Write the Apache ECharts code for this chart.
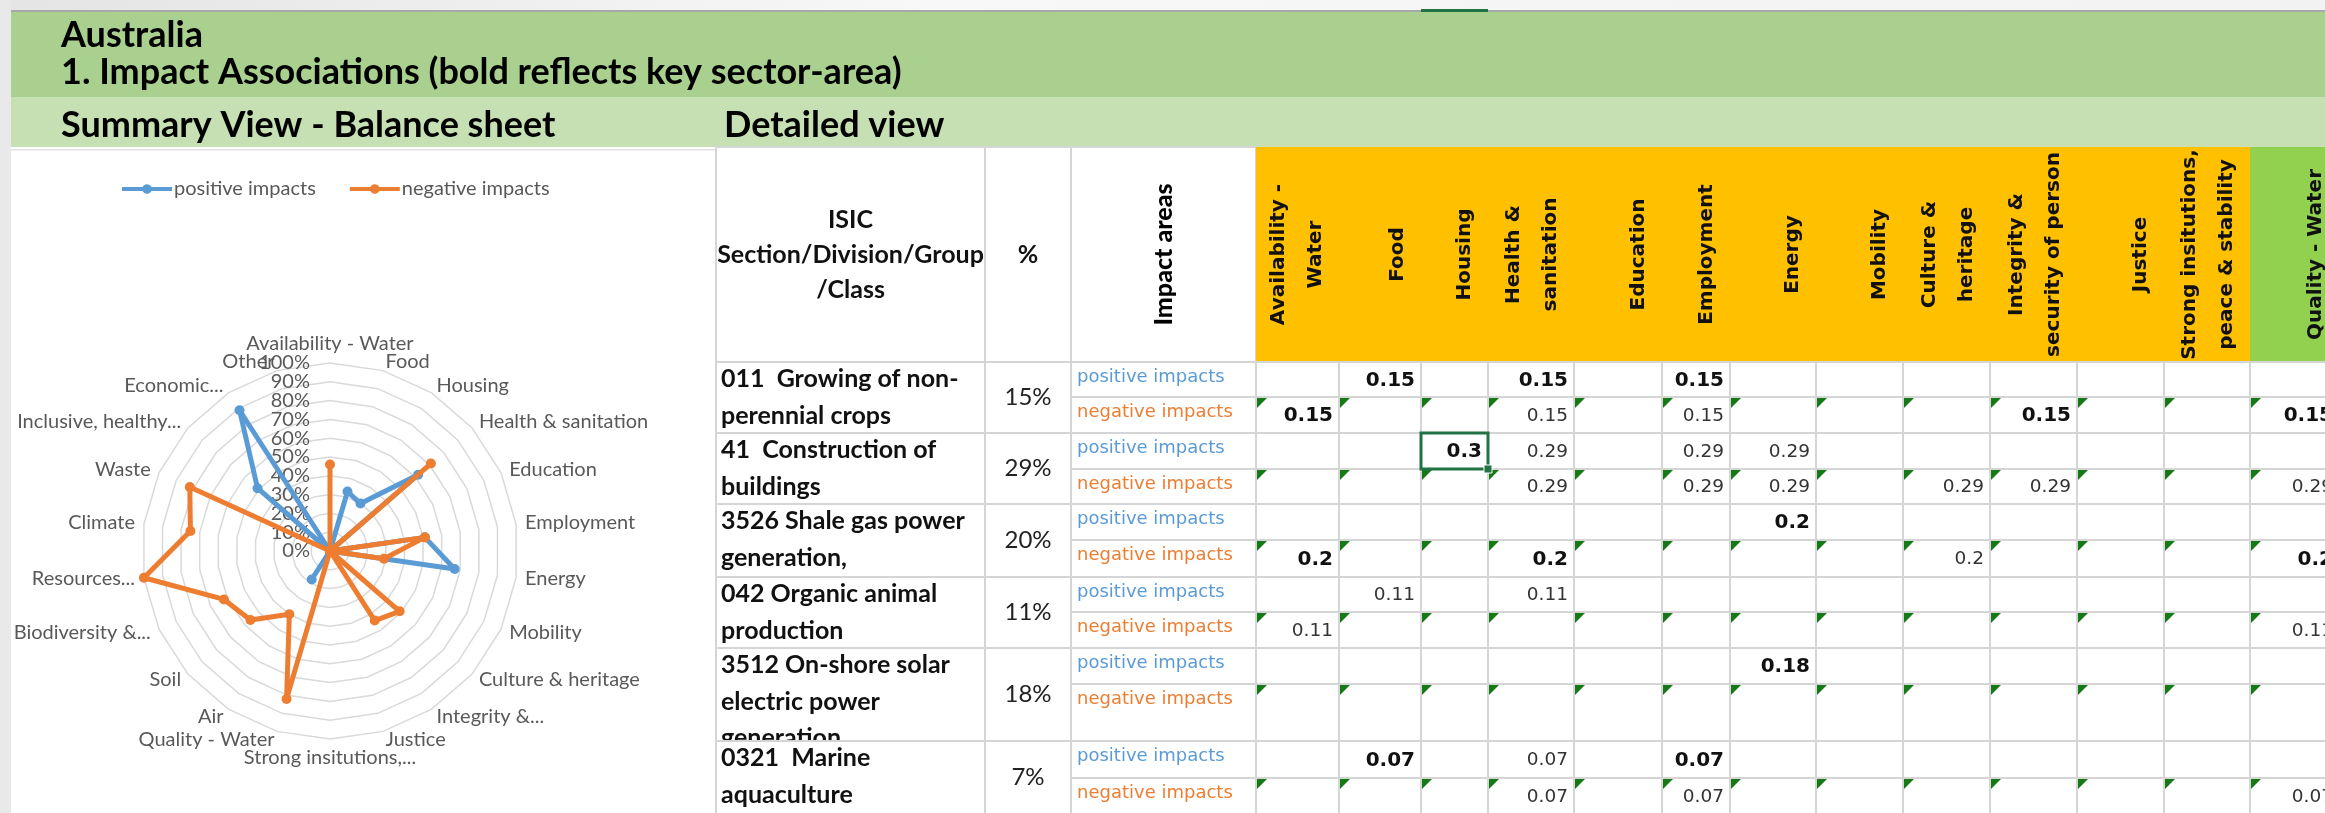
<!DOCTYPE html>
<html><head><meta charset="utf-8">
<script src="https://cdn.jsdelivr.net/npm/echarts@6/dist/echarts.min.js"></script>
<style>html,body{margin:0;padding:0;background:#fff;}#c{width:2325px;height:813px;}</style>
</head><body><div id="c"></div>
<script>
// ---------------- DATA ----------------
const radarCategories = ['Availability - Water','Food','Housing','Health & sanitation','Education','Employment','Energy','Mobility','Culture & heritage','Integrity &...','Justice','Strong insitutions,...','Quality - Water','Air','Soil','Biodiversity &...','Resources...','Climate','Waste','Inclusive, healthy...','Economic...','Other'];
const radarPositive = [0, 0.33, 0.30, 0.62, 0, 0.51, 0.67, 0, 0, 0, 0, 0, 0, 0.18, 0, 0, 0, 0, 0, 0.51, 0.89, 0];
const radarNegative = [0.46, 0, 0, 0.71, 0, 0.51, 0.29, 0, 0.49, 0.44, 0, 0, 0.82, 0.40, 0.56, 0.62, 1.00, 0.75, 0.82, 0, 0, 0];
const radarTickLabels = ['0%','10%','20%','30%','40%','50%','60%','70%','80%','90%','100%'];
const seriesNames = ['positive impacts', 'negative impacts'];

const sectors = ['011  Growing of non-\nperennial crops', '41  Construction of\nbuildings', '3526 Shale gas power\ngeneration,', '042 Organic animal\nproduction', '3512 On-shore solar\nelectric power\ngeneration', '0321  Marine\naquaculture'];
const sectorShares = ['15%', '29%', '20%', '11%', '18%', '7%'];
const impactRows = ['positive impacts', 'negative impacts'];
const impactAreas = ['Availability -\nWater', 'Food', 'Housing', 'Health &\nsanitation', 'Education', 'Employment', 'Energy', 'Mobility', 'Culture &\nheritage', 'Integrity &\nsecurity of person', 'Justice', 'Strong insitutions,\npeace & stability', 'Quality - Water'];
const positiveValues = [
  [null, 0.15, null, 0.15, null, 0.15, null, null, null, null, null, null, null],
  [null, null, 0.3, 0.29, null, 0.29, 0.29, null, null, null, null, null, null],
  [null, null, null, null, null, null, 0.2, null, null, null, null, null, null],
  [null, 0.11, null, 0.11, null, null, null, null, null, null, null, null, null],
  [null, null, null, null, null, null, 0.18, null, null, null, null, null, null],
  [null, 0.07, null, 0.07, null, 0.07, null, null, null, null, null, null, null]
];
const negativeValues = [
  [0.15, null, null, 0.15, null, 0.15, null, null, null, 0.15, null, null, 0.15],
  [null, null, null, 0.29, null, 0.29, 0.29, null, 0.29, 0.29, null, null, 0.29],
  [0.2, null, null, 0.2, null, null, null, null, 0.2, null, null, null, 0.2],
  [0.11, null, null, null, null, null, null, null, null, null, null, null, 0.11],
  [null, null, null, null, null, null, null, null, null, null, null, null, null],
  [null, null, null, 0.07, null, 0.07, null, null, null, null, null, null, 0.07]
];
// key sector-area cells (shown bold): [sector, area]
const positiveKeys = [[0,1],[0,3],[0,5],[1,2],[2,6],[4,6],[5,1],[5,5]];
const negativeKeys = [[0,0],[0,9],[0,12],[2,0],[2,3],[2,12]];
const selectedCell = {sector: 1, row: 0, area: 2};

// ---------------- LAYOUT / STYLE ----------------
const L = {
  colEdges: [716, 985, 1071, 1256, 1339, 1421, 1488, 1574, 1662, 1730, 1816, 1903, 1990, 2077, 2164, 2250, 2339],
  headTop: 147, headBottom: 362,
  rowEdges: [362, 397, 433, 469, 504, 540, 577, 612, 648, 684, 741, 778, 814]
};
const BORDER = '#d5d5d5';
const BLUE = '#5B9BD5', ORANGE = '#ED7D31';
const CAL = 'Lato';
const RADAR_CENTER = [330, 551], RADAR_R = 188;

// radar: Excel goes clockwise, ECharts counter-clockwise -> reorder
function toRadarOrder(arr) { return [arr[0]].concat(arr.slice(1).reverse()); }
const radarOrderCats = toRadarOrder(radarCategories);
const tickIdx = v => Math.round(v * 10);

// build table cell descriptors from data
const cells = [];
cells.push({kind: 'isicHead'}, {kind: 'shareHead'}, {kind: 'impactHead'});
impactAreas.forEach((a, j) => cells.push({kind: 'areaHead', j}));
sectors.forEach((s, i) => {
  cells.push({kind: 'sector', i}, {kind: 'share', i});
  impactRows.forEach((r, k) => {
    cells.push({kind: 'impact', i, k});
    impactAreas.forEach((a, j) => cells.push({kind: 'value', i, k, j}));
  });
});
cells.push({kind: 'selection'});

function isKey(list, i, j) { return list.some(p => p[0] === i && p[1] === j); }
function rect(x0, y0, x1, y1, fill, stroke, lw) {
  return {type: 'rect', shape: {x: x0, y: y0, width: x1 - x0, height: y1 - y0},
    style: {fill: fill, stroke: stroke || null, lineWidth: lw || 2}};
}
function txt(x, y, s, st, rot) {
  return {type: 'text', x: x, y: y, rotation: rot || 0, style: Object.assign({text: s}, st)};
}

function renderItem(params, api) {
  const c = cells[params.dataIndex];
  const E = L.colEdges, R = L.rowEdges, HT = L.headTop, HB = L.headBottom;
  const hc = (HT + HB) / 2;
  const ch = [];
  if (c.kind === 'isicHead') {
    ch.push(rect(E[0], HT, E[1], HB, '#fff', BORDER));
    ch.push(txt((E[0] + E[1]) / 2, hc, 'ISIC\nSection/Division/Group\n/Class',
      {fontSize: 25, fontWeight: 'bold', fontFamily: CAL, fill: '#111', align: 'center', verticalAlign: 'middle', lineHeight: 35}));
  } else if (c.kind === 'shareHead') {
    ch.push(rect(E[1], HT, E[2], HB, '#fff', BORDER));
    ch.push(txt((E[1] + E[2]) / 2, hc, '%', {fontSize: 25, fontWeight: 'bold', fontFamily: CAL, fill: '#111', align: 'center', verticalAlign: 'middle'}));
  } else if (c.kind === 'impactHead') {
    ch.push(rect(E[2], HT, E[3], HB, '#fff', BORDER));
    ch.push(txt((E[2] + E[3]) / 2, hc, 'Impact areas', {fontSize: 25, fontWeight: 900, fontFamily: CAL, fill: '#000', align: 'center', verticalAlign: 'middle'}, Math.PI / 2));
  } else if (c.kind === 'areaHead') {
    const x0 = E[3 + c.j], x1 = E[4 + c.j];
    ch.push(rect(x0, HT, x1 + 0.5, HB, c.j < 12 ? '#FFC000' : '#92D050', null, 0));
    const n = impactAreas[c.j].split('\n').length;
    ch.push(txt(x1 - 23 - (n - 1) * 37 / 2, hc, impactAreas[c.j],
      {fontSize: 20, fontWeight: 'bold', fontFamily: 'DejaVu Sans', fill: '#111', align: 'center', verticalAlign: 'middle', lineHeight: 37}, Math.PI / 2));
  } else if (c.kind === 'sector') {
    const y0 = R[2 * c.i], y1 = R[2 * c.i + 2];
    ch.push(rect(E[0], y0, E[1], y1, '#fff', BORDER));
    ch.push(txt(E[0] + 5, y0 - 1, sectors[c.i], {fontSize: 25, fontWeight: 'bold', fontFamily: CAL, fill: '#111', align: 'left', verticalAlign: 'top', lineHeight: 36.5}));
  } else if (c.kind === 'share') {
    const y0 = R[2 * c.i], y1 = R[2 * c.i + 2];
    ch.push(rect(E[1], y0, E[2], y1, '#fff', BORDER));
    ch.push(txt((E[1] + E[2]) / 2, (y0 + y1) / 2, sectorShares[c.i], {fontSize: 24, fontFamily: CAL, fill: '#222', align: 'center', verticalAlign: 'middle'}));
  } else if (c.kind === 'impact') {
    const y0 = R[2 * c.i + c.k], y1 = R[2 * c.i + c.k + 1];
    ch.push(rect(E[2], y0, E[3], y1, '#fff', BORDER));
    ch.push(txt(E[2] + 6, y0 + 15, impactRows[c.k], {fontSize: 18, fontFamily: 'DejaVu Sans', fill: c.k === 0 ? BLUE : ORANGE, align: 'left', verticalAlign: 'middle'}));
  } else if (c.kind === 'value') {
    const y0 = R[2 * c.i + c.k], y1 = R[2 * c.i + c.k + 1];
    const x0 = E[3 + c.j], x1 = E[4 + c.j];
    ch.push(rect(x0, y0, x1, y1, '#fff', BORDER));
    const v = (c.k === 0 ? positiveValues : negativeValues)[c.i][c.j];
    if (v !== null) {
      const bold = isKey(c.k === 0 ? positiveKeys : negativeKeys, c.i, c.j);
      ch.push(txt(x1 - 6, (y0 + y1) / 2 + 1, String(v), {fontSize: bold ? 20 : 18.5, fontWeight: bold ? 'bold' : 'normal', fontFamily: 'DejaVu Sans', fill: bold ? '#111' : '#333', align: 'right', verticalAlign: 'middle'}));
    }
    if (c.k === 1) {
      ch.push({type: 'polygon', shape: {points: [[x0 + 1, y0 + 1], [x0 + 11, y0 + 1], [x0 + 1, y0 + 11]]}, style: {fill: '#157a15'}});
    }
  } else if (c.kind === 'selection') {
    const s = selectedCell;
    const y0 = R[2 * s.sector + s.row], y1 = R[2 * s.sector + s.row + 1];
    const x0 = E[3 + s.area], x1 = E[4 + s.area];
    ch.push(rect(x0, y0, x1, y1, null, '#217346', 3));
    ch.push({type: 'rect', shape: {x: x1 - 4, y: y1 - 4, width: 8, height: 8}, style: {fill: '#217346', stroke: '#fff', lineWidth: 1}});
  }
  return {type: 'group', children: ch};
}

const legendIcon = 'path://M0,3L20.5,3A5,5,0,0,1,29.5,3L50,3L50,7L29.5,7A5,5,0,0,1,20.5,7L0,7Z';
const tickLabelStyle = {color: '#595959', fontSize: 20, fontFamily: CAL, margin: 20};

const option = {
  animation: false,
  backgroundColor: '#ffffff',
  graphic: [
    {type: 'rect', shape: {x: 0, y: 0, width: 2325, height: 11}, style: {fill: new echarts.graphic.LinearGradient(0, 0, 1, 0, [{offset: 0, color: '#e4e4e4'}, {offset: 0.4, color: '#f8f8f8'}, {offset: 1, color: '#f2f2f2'}])}},
    {type: 'rect', shape: {x: 0, y: 0, width: 11, height: 813}, style: {fill: '#e9e9e9'}},
    {type: 'rect', shape: {x: 11, y: 10, width: 2314, height: 2}, style: {fill: '#a8a8a8'}},
    {type: 'rect', shape: {x: 1421, y: 9, width: 67, height: 3}, style: {fill: '#217346'}},
    {type: 'rect', shape: {x: 11, y: 12, width: 2314, height: 85}, style: {fill: '#A9D08E'}},
    {type: 'rect', shape: {x: 11, y: 97, width: 2314, height: 50}, style: {fill: '#C6E0B4'}},
    {type: 'rect', shape: {x: 11, y: 149, width: 705, height: 1.5}, style: {fill: '#e2e2e2'}},
    {type: 'text', x: 61, y: 35, style: {text: 'Australia', fontSize: 36, fontWeight: 'bold', fontFamily: CAL, fill: '#000', verticalAlign: 'middle'}},
    {type: 'text', x: 61, y: 72, style: {text: '1. Impact Associations (bold reflects key sector-area)', fontSize: 36, fontWeight: 'bold', fontFamily: CAL, fill: '#000', verticalAlign: 'middle'}},
    {type: 'text', x: 61, y: 125, style: {text: 'Summary View - Balance sheet', fontSize: 36, fontWeight: 'bold', fontFamily: CAL, fill: '#000', verticalAlign: 'middle'}},
    {type: 'text', x: 724, y: 125, style: {text: 'Detailed view', fontSize: 36, fontWeight: 'bold', fontFamily: CAL, fill: '#000', verticalAlign: 'middle'}}
  ],
  legend: {
    left: 117, top: 174, itemWidth: 50, itemHeight: 10, itemGap: 34, icon: legendIcon, selectedMode: false,
    data: seriesNames,
    textStyle: {color: '#595959', fontSize: 20, fontFamily: CAL, padding: [0, 0, 0, -3]}
  },
  radar: [
    {
      center: RADAR_CENTER, radius: RADAR_R, startAngle: 90, splitNumber: 10, shape: 'polygon',
      nameGap: 9,
      axisName: {color: '#595959', fontSize: 20, fontFamily: CAL},
      splitLine: {lineStyle: {color: '#d9d9d9', width: 1.5}},
      splitArea: {show: false},
      axisLine: {show: false},
      axisTick: {show: false},
      axisLabel: Object.assign({show: false, showMinLabel: true, showMaxLabel: true,
        formatter: v => radarTickLabels[tickIdx(v)]}, tickLabelStyle),
      indicator: radarOrderCats.map((name, i) => i === 0
        ? {name: name, min: 0, max: 1, axisLabel: {show: true, showMinLabel: true, showMaxLabel: true}}
        : {name: name, min: 0, max: 1})
    },
    {
      // same axes again, only to carry the tick labels next to the min/max ones
      center: RADAR_CENTER, radius: RADAR_R, startAngle: 90, splitNumber: 10, shape: 'polygon',
      axisName: {show: false},
      splitLine: {show: false}, splitArea: {show: false}, axisLine: {show: false}, axisTick: {show: false},
      axisLabel: Object.assign({show: false, showMinLabel: false, showMaxLabel: false,
        formatter: v => (tickIdx(v) === 1 || tickIdx(v) === 9) ? radarTickLabels[tickIdx(v)] : ''}, tickLabelStyle),
      indicator: radarOrderCats.map((name, i) => i === 0
        ? {name: name, min: 0, max: 1, axisLabel: {show: true, showMinLabel: false, showMaxLabel: false}}
        : {name: name, min: 0, max: 1})
    }
  ],
  series: [
    {type: 'custom', coordinateSystem: 'none', silent: true, renderItem: renderItem, data: cells.map((c, i) => [i]), z: 1},
    {type: 'radar', radarIndex: 0, name: seriesNames[0], symbol: 'circle', symbolSize: 10, z: 3,
      lineStyle: {width: 5, color: BLUE, join: 'round'}, itemStyle: {color: BLUE},
      data: [{name: seriesNames[0], value: toRadarOrder(radarPositive)}]},
    {type: 'radar', radarIndex: 0, name: seriesNames[1], symbol: 'circle', symbolSize: 10, z: 4,
      lineStyle: {width: 5, color: ORANGE, join: 'round'}, itemStyle: {color: ORANGE},
      data: [{name: seriesNames[1], value: toRadarOrder(radarNegative)}]}
  ]
};
const chart = echarts.init(document.getElementById('c'), null, {renderer: 'canvas', width: 2325, height: 813});
chart.setOption(option);
</script>
</body></html>
